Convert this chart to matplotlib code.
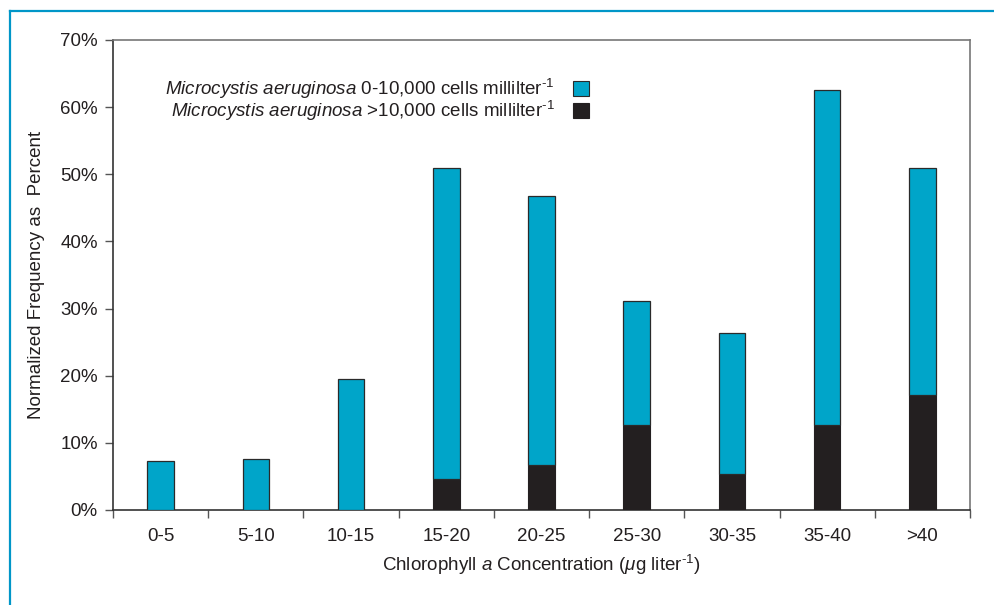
import matplotlib
matplotlib.use("Agg")
import matplotlib.pyplot as plt
from matplotlib.lines import Line2D
from matplotlib.patches import Patch
from matplotlib.ticker import FuncFormatter
import numpy as np

categories = ["0-5", "5-10", "10-15", "15-20", "20-25", "25-30", "30-35", "35-40", ">40"]
total_pct = [7.3, 7.6, 19.5, 51.0, 46.7, 31.2, 26.3, 62.6, 51.0]
high_pct = [0.0, 0.0, 0.0, 4.6, 6.7, 12.6, 5.4, 12.6, 17.1]
low_pct = [t - h for t, h in zip(total_pct, high_pct)]
yticks = [0, 10, 20, 30, 40, 50, 60, 70]

plt.rcParams['font.family'] = ['Liberation Sans', 'DejaVu Sans']
plt.rcParams['mathtext.fontset'] = 'custom'
plt.rcParams['mathtext.rm'] = 'Liberation Sans'
plt.rcParams['mathtext.it'] = 'Liberation Sans:italic'
plt.rcParams['mathtext.bf'] = 'Liberation Sans:bold'

BLUE = '#00A5C9'
BLACK = '#231F20'
TXT = '#231F20'
FS = 13.5

fig = plt.figure(figsize=(9.95, 6.05), dpi=100)
ax = fig.add_axes([113/995, 1-510/605, (970-113)/995, (510-40)/605])

x = np.arange(len(categories))
w = 0.28
ax.bar(x, high_pct, w, color=BLACK, edgecolor=BLACK, linewidth=0.8, zorder=3)
ax.bar(x, low_pct, w, bottom=high_pct, color=BLUE, edgecolor='#2a2a2a', linewidth=0.9, zorder=3)

ax.set_xlim(-0.5, len(categories) - 0.5)
ax.set_ylim(0, 70)
ax.set_yticks(yticks)
ax.yaxis.set_major_formatter(FuncFormatter(lambda v, p: f"{int(v)}%"))
ax.set_xticks(x)
ax.set_xticklabels(categories)
ax.set_xticks(np.arange(-0.5, len(categories)), minor=True)
ax.tick_params(axis='x', which='major', length=0, pad=13, labelsize=FS, labelcolor=TXT)
ax.tick_params(axis='x', which='minor', length=6, width=1, color='#555555', direction='out')
ax.tick_params(axis='y', length=6, width=1, color='#555555', labelsize=FS, labelcolor=TXT, pad=5)

for s in ['left', 'bottom']:
    ax.spines[s].set_color('#333333')
    ax.spines[s].set_linewidth(1.2)
for s in ['top', 'right']:
    ax.spines[s].set_color('#777777')
    ax.spines[s].set_linewidth(1.2)

ax.set_ylabel("Normalized Frequency as  Percent", fontsize=FS, color=TXT, labelpad=11)
ax.set_xlabel(r"Chlorophyll $\mathit{a}$ Concentration ($\mathit{\mu}$g liter$^{\text{-1}}$)",
              fontsize=FS, color=TXT, labelpad=6)

handles = [Patch(facecolor=BLUE, edgecolor='#2a2a2a', linewidth=0.8),
           Patch(facecolor=BLACK, edgecolor=BLACK, linewidth=0.8)]
labels = [r"$\mathit{Microcystis\ aeruginosa}$ 0-10,000 cells millilter$^{\text{-1}}$",
          r"$\mathit{Microcystis\ aeruginosa}$ >10,000 cells millilter$^{\text{-1}}$"]
leg = ax.legend(handles, labels, loc='upper right', bbox_to_anchor=((589-113)/857, (510-77)/470),
                markerfirst=False, frameon=False, fontsize=FS, handlelength=0.85, handleheight=0.85,
                handletextpad=1.0, labelspacing=-0.1, borderpad=0, borderaxespad=0)
for t in leg.get_texts():
    t.set_color(TXT)

# outer blue frame
FR = '#0096C8'
fig.add_artist(Line2D([10.5/995, 10.5/995], [0, 1-10.5/605], color=FR, lw=1.6, transform=fig.transFigure))
fig.add_artist(Line2D([10.5/995, 1], [1-10.5/605, 1-10.5/605], color=FR, lw=1.6, transform=fig.transFigure))

fig.savefig("out.png", dpi=100)
